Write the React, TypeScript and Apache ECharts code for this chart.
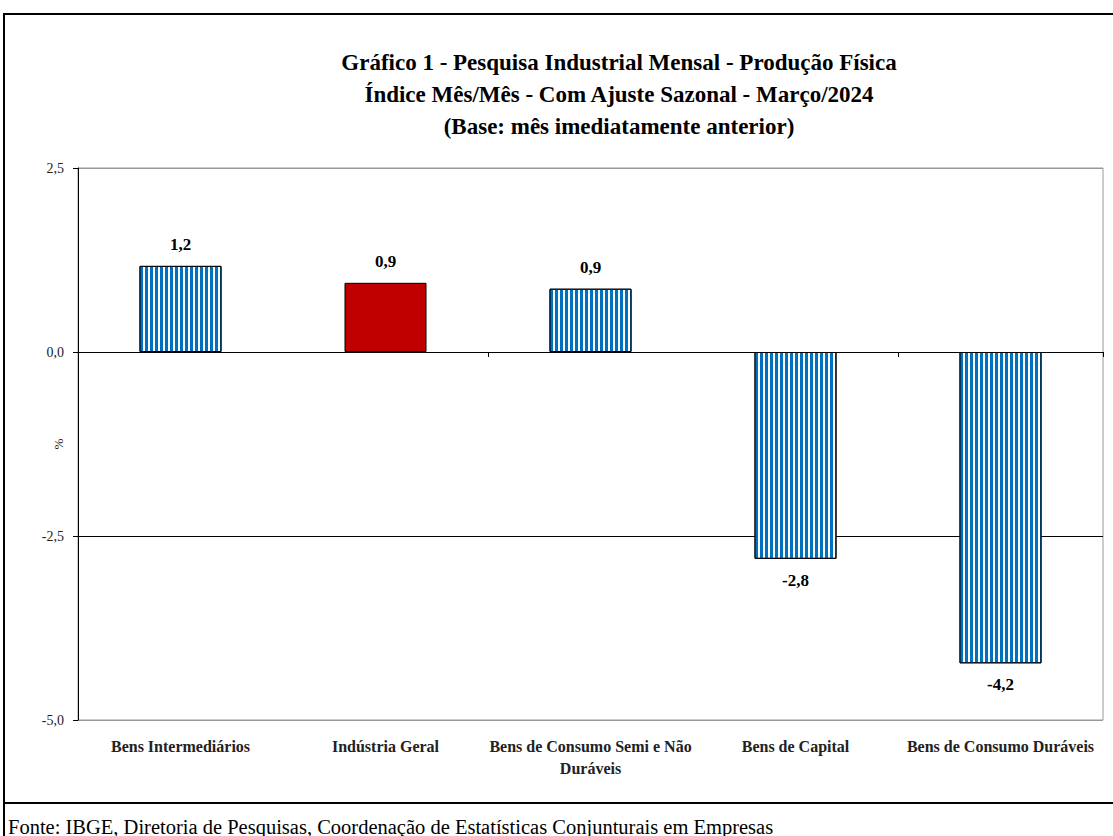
import React, { useEffect, useRef } from "react";
import * as echarts from "echarts";

const categories = [
  "Bens Intermediários",
  "Indústria Geral",
  "Bens de Consumo Semi e Não\nDuráveis",
  "Bens de Capital",
  "Bens de Consumo Duráveis",
];
const values = [1.17, 0.94, 0.86, -2.81, -4.23];
const highlighted = [false, true, false, false, false];
const yTicks = [-5, -2.5, 0, 2.5];

const titleLines = [
  "Gráfico 1 - Pesquisa Industrial Mensal - Produção Física",
  "Índice Mês/Mês - Com Ajuste Sazonal - Março/2024",
  "(Base: mês imediatamente anterior)",
];
const sourceText =
  "Fonte: IBGE, Diretoria de Pesquisas, Coordenação de Estatísticas Conjunturais em Empresas";

const FONT = "'Liberation Serif', 'DejaVu Serif', serif";
const fmt = (v: number) => v.toFixed(1).replace(".", ",");

export default function App() {
  const ref = useRef<HTMLDivElement>(null);
  useEffect(() => {
    document.body.style.margin = "0";
    const chart = echarts.init(ref.current!, null, { renderer: "svg" });
    const data = values.map((v, i) => ({
      value: v,
      itemStyle: highlighted[i]
        ? { color: "#C00000", borderColor: "#000", borderWidth: 1 }
        : {
            color: "#ffffff",
            borderColor: "#000",
            borderWidth: 1,
            decal: {
              symbol: "rect",
              symbolSize: 1,
              color: "#0070C0",
              dashArrayX: [2.5, 2],
              dashArrayY: [6, 0],
              rotation: 0,
            },
          },
      label: { position: v >= 0 ? "top" : "bottom" },
    }));
    chart.setOption({
      animation: false,
      backgroundColor: "#fff",
      title: {
        text: titleLines.join("\n"),
        left: 614,
        textAlign: "center",
        top: 41,
        textStyle: {
          fontFamily: FONT,
          fontSize: 23,
          fontWeight: "bold",
          color: "#000",
          lineHeight: 32,
        },
      },
      grid: {
        left: 78,
        right: 10,
        top: 168,
        bottom: 116,
        show: true,
        borderColor: "#999",
        borderWidth: 1,
      },
      xAxis: [
        {
          type: "category",
          data: categories,
          axisLine: { onZero: true, lineStyle: { color: "#000", width: 1 } },
          axisTick: { show: true, length: 5, lineStyle: { color: "#000" } },
          axisLabel: { show: false },
        },
        {
          type: "category",
          data: categories,
          position: "bottom",
          axisLine: { show: false, onZero: false },
          axisTick: { show: false },
          axisLabel: {
            margin: 15,
            interval: 0,
            fontFamily: FONT,
            fontSize: 16,
            fontWeight: "bold",
            color: "#222",
            lineHeight: 22,
          },
        },
      ],
      yAxis: {
        type: "value",
        min: -5,
        max: 2.5,
        interval: 2.5,
        name: "%",
        nameLocation: "middle",
        nameGap: 13,
        nameMoveOverlap: false,
        nameRotate: 90,
        nameTextStyle: { fontFamily: FONT, fontSize: 13, color: "#222" },
        axisLine: { show: true, lineStyle: { color: "#000" } },
        axisTick: { show: true, length: 5, lineStyle: { color: "#000" } },
        axisLabel: {
          margin: 14,
          fontFamily: FONT,
          fontSize: 14,
          color: "#222",
          formatter: (v: number) => (yTicks.includes(v) ? fmt(v) : ""),
        },
        splitLine: {
          show: true,
          lineStyle: { color: ["#999", "#000", "#000", "#999"], width: 1 },
        },
      },
      series: [
        {
          type: "bar",
          xAxisIndex: 0,
          data,
          barWidth: "40%",
          label: {
            show: true,
            distance: 13,
            fontFamily: FONT,
            fontSize: 17,
            fontWeight: "bold",
            color: "#000",
            formatter: (p: any) => fmt(p.value),
          },
        },
      ],
      graphic: [
        {
          type: "rect",
          shape: { x: 4, y: 14, width: 1120, height: 789 },
          style: { fill: "none", stroke: "#000", lineWidth: 2 },
          silent: true,
        },
        {
          type: "line",
          shape: { x1: 4, y1: 803, x2: 4, y2: 836 },
          style: { stroke: "#000", lineWidth: 2 },
          silent: true,
        },
        {
          type: "text",
          left: 8,
          top: 816,
          style: {
            text: sourceText,
            fontFamily: FONT,
            fontSize: 20.5,
            fill: "#000",
          },
          silent: true,
        },
      ],
    });
    return () => chart.dispose();
  }, []);
  return <div ref={ref} style={{ width: 1113, height: 836 }} />;
}
